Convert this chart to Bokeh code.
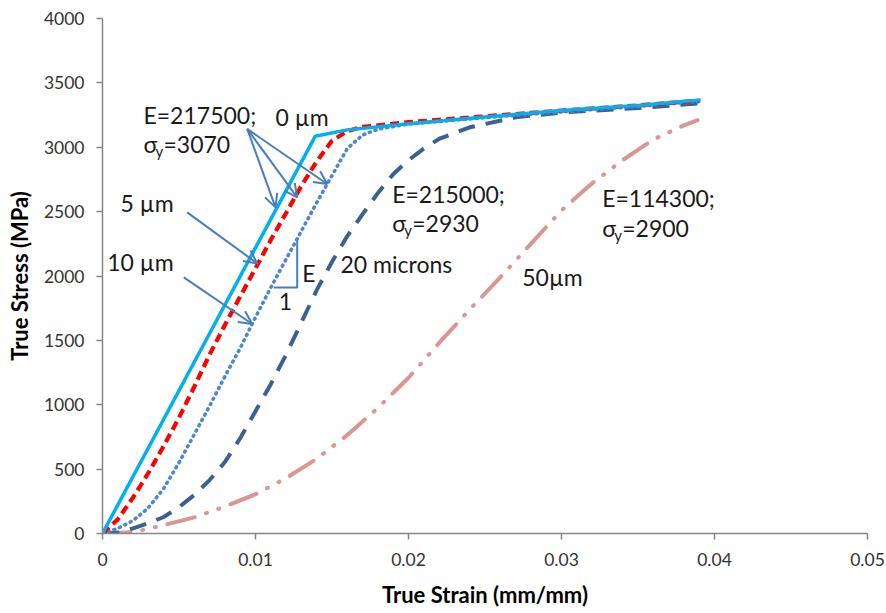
from bokeh.plotting import figure
from bokeh.models import Range1d, Label, Arrow, OpenHead, FixedTicker
from bokeh.embed import file_html
from bokeh.resources import INLINE

# ---------------- data ----------------
strain_0um = [0.0, 0.0139, 0.016, 0.020, 0.025, 0.030, 0.035, 0.0391]
stress_0um = [0, 3085, 3135, 3182, 3235, 3285, 3325, 3368]

strain_5um = [0.0, 0.001, 0.002, 0.003, 0.004, 0.005, 0.006, 0.007, 0.008, 0.009, 0.010,
              0.011, 0.012, 0.013, 0.014, 0.015, 0.016, 0.017, 0.020, 0.025, 0.030, 0.035, 0.039]
stress_5um = [0, 110, 280, 470, 680, 900, 1140, 1390, 1620, 1840, 2060,
              2280, 2490, 2700, 2890, 3050, 3125, 3158, 3195, 3240, 3285, 3325, 3362]

strain_10um = [0.0, 0.001, 0.002, 0.003, 0.004, 0.005, 0.006, 0.007, 0.008, 0.009, 0.010,
               0.011, 0.012, 0.013, 0.014, 0.015, 0.016, 0.017, 0.018, 0.020, 0.025, 0.030, 0.035, 0.039]
stress_10um = [0, 40, 100, 200, 350, 550, 770, 990, 1220, 1440, 1680,
               1910, 2130, 2350, 2570, 2780, 2990, 3095, 3140, 3180, 3230, 3275, 3318, 3355]

strain_20um = [0.0, 0.001, 0.002, 0.003, 0.004, 0.005, 0.006, 0.007, 0.008, 0.009, 0.010,
               0.011, 0.012, 0.013, 0.014, 0.015, 0.016, 0.017, 0.018, 0.019, 0.020,
               0.021, 0.022, 0.024, 0.027, 0.030, 0.035, 0.039]
stress_20um = [0, 5, 40, 80, 128, 205, 300, 415, 555, 740, 950,
               1160, 1390, 1640, 1890, 2110, 2310, 2480, 2645, 2790, 2900,
               2990, 3065, 3155, 3232, 3270, 3305, 3340]

strain_50um = [0.0, 0.002, 0.004, 0.006, 0.008, 0.010, 0.012, 0.014, 0.016, 0.018, 0.020,
               0.022, 0.024, 0.026, 0.028, 0.030, 0.032, 0.034, 0.036, 0.038, 0.0389]
stress_50um = [0, 10, 65, 125, 210, 305, 430, 580, 765, 975, 1210,
               1480, 1740, 1990, 2250, 2510, 2720, 2900, 3060, 3170, 3210]

x_ticks = [0, 0.01, 0.02, 0.03, 0.04, 0.05]
x_tick_labels = ["0", "0.01", "0.02", "0.03", "0.04", "0.05"]
y_ticks = [0, 500, 1000, 1500, 2000, 2500, 3000, 3500, 4000]

FONT = "Lato"
TEXT_COLOR = "#1a1a1a"
ARROW_COLOR = "#4a7ebb"

p = figure(frame_width=765, frame_height=515, min_border_left=102, min_border_right=19,
           min_border_top=18, min_border_bottom=80,
           x_range=Range1d(0, 0.05), y_range=Range1d(0, 4000),
           output_backend="svg", toolbar_location=None,
           x_axis_label="True Strain (mm/mm)", y_axis_label="True Stress (MPa)")
p.outline_line_color = None
p.xgrid.grid_line_color = None
p.ygrid.grid_line_color = None
p.background_fill_color = "white"
p.border_fill_color = "white"

p.xaxis.ticker = FixedTicker(ticks=x_ticks)
p.xaxis.major_label_overrides = {t: l for t, l in zip(x_ticks, x_tick_labels)}
p.yaxis.ticker = FixedTicker(ticks=y_ticks)
for ax in (p.xaxis, p.yaxis):
    ax.axis_line_color = "#868686"
    ax.axis_line_width = 1.5
    ax.major_tick_line_color = "#868686"
    ax.major_tick_line_width = 1.5
    ax.major_tick_out = 6
    ax.major_tick_in = 0
    ax.minor_tick_line_color = None
    ax.major_label_text_font = FONT
    ax.major_label_text_font_size = "17.5px"
    ax.major_label_text_color = "#333333"
    ax.axis_label_text_font = FONT
    ax.axis_label_text_font_size = "22px"
    ax.axis_label_text_font_style = "bold"
    ax.axis_label_text_color = "#000000"
p.xaxis.major_label_standoff = 13
p.yaxis.major_label_standoff = 12
p.xaxis.axis_label_standoff = 12
p.yaxis.axis_label_standoff = 8

# ---------------- curves ----------------
p.line(strain_50um, stress_50um, line_color="#d99694", line_width=4,
       line_dash="28 12 1 12 1 12", line_cap="round")
p.line(strain_20um, stress_20um, line_color="#3b6192", line_width=4, line_dash="17 11")
p.line(strain_10um, stress_10um, line_color="#4f86d0", line_width=3.6,
       line_dash="1 5", line_cap="round")
p.line(strain_5um, stress_5um, line_color="#ff0000", line_width=4.2, line_dash="9 5")
p.line(strain_0um, stress_0um, line_color="#00b0f0", line_width=3.5)

# ---------------- annotations ----------------
def to_data(px, py):
    return (px - 102) / 15300.0, (532.7 - py) / 0.1287

def add_arrow(p0, p1):
    x0, y0 = to_data(*p0)
    x1, y1 = to_data(*p1)
    p.add_layout(Arrow(end=OpenHead(size=13, line_color=ARROW_COLOR, line_width=2),
                       x_start=x0, y_start=y0, x_end=x1, y_end=y1,
                       line_color=ARROW_COLOR, line_width=2))

for end in [(275, 206.7), (296.7, 196.7), (326.7, 183.3)]:
    add_arrow((246.7, 128.3), end)
add_arrow((186.7, 211.7), (256.7, 262.7))
add_arrow((183.3, 276.7), (251.7, 323.3))

# slope triangle
tx0, ty0 = to_data(273.3, 286.7)
tx1, ty1 = to_data(296.7, 240)
p.line([tx0, tx1, tx1], [ty0, ty0, ty1], line_color=ARROW_COLOR, line_width=2)

SIZE = "23px"

def add_text(txt, px, py, size=SIZE, align="left"):
    x, y = to_data(px, py)
    p.add_layout(Label(x=x, y=y, text=txt, text_font=FONT, text_font_size=size,
                       text_color=TEXT_COLOR, text_align=align, text_baseline="middle"))

def add_sigma(value_txt, px, py):
    x, y = to_data(px, py)
    p.add_layout(Label(x=x, y=y, text="σ", text_font=FONT, text_font_size=SIZE,
                       text_color=TEXT_COLOR, text_align="left", text_baseline="middle"))
    p.add_layout(Label(x=x, y=y, x_offset=12, y_offset=-7, text="y", text_font=FONT,
                       text_font_size="15px", text_color=TEXT_COLOR,
                       text_align="left", text_baseline="middle"))
    p.add_layout(Label(x=x, y=y, x_offset=20, text="=" + value_txt, text_font=FONT,
                       text_font_size=SIZE, text_color=TEXT_COLOR,
                       text_align="left", text_baseline="middle"))

add_text("E=217500;", 143, 114)
add_sigma("3070", 143, 143)
add_text("0 µm", 275, 116)
add_text("5 µm", 120, 202)
add_text("10 µm", 106.7, 261)
add_text("E=215000;", 391.7, 193.5)
add_sigma("2930", 391.7, 222)
add_text("20 microns", 340, 263)
add_text("50µm", 521.7, 276)
add_text("E=114300;", 601.7, 197.5)
add_sigma("2900", 601.7, 227)
add_text("E", 301.7, 272)
add_text("1", 285, 301, align="center")

open("out.html", "w").write(file_html(p, INLINE))
